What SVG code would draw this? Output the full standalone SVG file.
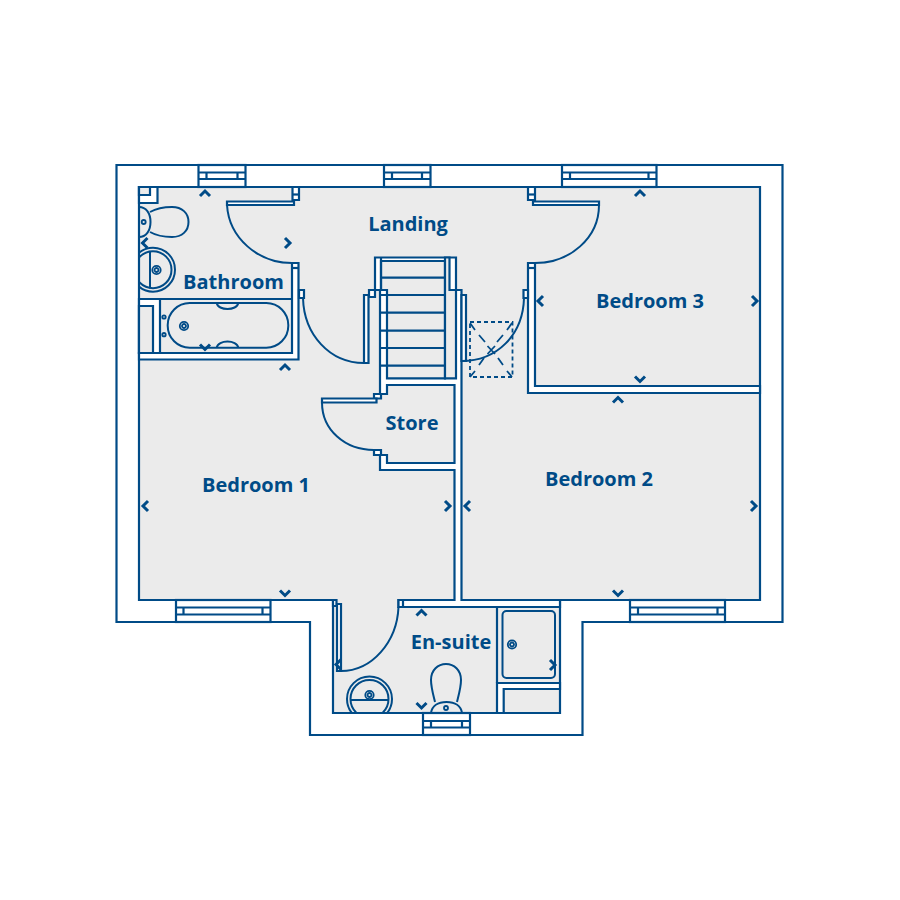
<svg xmlns="http://www.w3.org/2000/svg" width="900" height="900" viewBox="0 0 900 900">
<style>
.l{fill:none;stroke:#004b87;stroke-width:2.2}
.g{fill:#ebebeb;stroke:#004b87;stroke-width:2.2}
.w{fill:#fff;stroke:#004b87;stroke-width:2.2}
.t{fill:none;stroke:#004b87;stroke-width:2}
.c{fill:none;stroke:#004b87;stroke-width:3}
.d{fill:none;stroke:#004b87;stroke-width:1.800;stroke-dasharray:4 3}
.h{fill:none;stroke:#004b87;stroke-width:1.800}
.lb{font-family:"Open Sans",sans-serif;font-weight:700;font-size:20px;fill:#004b87;text-anchor:middle}
</style>
<defs>
<path id="up" class="c" d="M-5,3 L0,-2 L5,3"/>
<path id="dn" class="c" d="M-5,-3 L0,2 L5,-3"/>
<path id="lf" class="c" d="M3,-5 L-2,0 L3,5"/>
<path id="rt" class="c" d="M-3,-5 L2,0 L-3,5"/>
<g id="drain"><circle r="4.200" class="h" stroke-width="1.200"/><circle r="2" class="h" stroke-width="1.200"/></g>
<clipPath id="cb"><rect x="139" y="187" width="60" height="120"/></clipPath>
<clipPath id="ce"><rect x="333" y="660" width="120" height="53"/></clipPath>
</defs>
<rect width="900" height="900" fill="#fff"/>
<path id="outer" class="w" d="M116.500,165 H782.500 V622 H582.500 V735 H310 V622 H116.500 Z"/>
<path id="rooms" class="g" d="M139,187 H760 V600 H560 V713 H333 V600 H139 Z"/>

<g id="windows">
<g class="l"><rect x="198.500" y="165" width="47" height="22" fill="#fff"/><path d="M198.500,172.500 H245.500 M198.500,179 H245.500 M206.500,172.500 V179 M237.500,172.500 V179"/></g>
<g class="l"><rect x="384" y="165" width="46.500" height="22" fill="#fff"/><path d="M384,172.500 H430.500 M384,179 H430.500 M392,172.500 V179 M422,172.500 V179"/></g>
<g class="l"><rect x="562" y="165" width="94.500" height="22" fill="#fff"/><path d="M562,172.500 H656.500 M562,179 H656.500 M570,172.500 V179 M648.500,172.500 V179"/></g>
<g class="l"><rect x="176" y="600" width="94.500" height="22" fill="#fff"/><path d="M176,607.500 H270.500 M176,614.500 H270.500 M183.500,607.500 V614.500 M262.500,607.500 V614.500"/></g>
<g class="l"><rect x="630" y="600" width="95" height="22" fill="#fff"/><path d="M630,607.500 H725 M630,614.500 H725 M638,607.500 V614.500 M717.500,607.500 V614.500"/></g>
<g class="l"><rect x="423" y="713" width="47" height="22" fill="#fff"/><path d="M423,721 H470 M423,727.500 H470 M431,721 V727.500 M462,721 V727.500"/></g>
</g>

<g id="walls">
<path class="w" d="M139,187 H157.500 V203 H139 Z"/><path class="g" d="M139,187 H150 V195 H139 Z"/>
<path class="w" d="M292,263 H298.500 V359.500 H139 V353 H292 Z"/>
<path class="l" d="M292,268 H298.500"/>
<path class="w" d="M139,299 H160 V353 H139 Z"/><path class="g" d="M139,306 H153 V353 H139 Z"/>
<path class="l" d="M160,299 H292"/>
<path class="w" d="M292.500,187 H299 V200 H292.500 Z"/><path class="l" d="M292.500,194.500 H299"/>
<path class="w" d="M528,187 H535 V200 H528 Z"/><path class="l" d="M528,194.500 H535"/>
<path class="w" d="M528,263 H535 V386 H760 V393 H528 Z"/><path class="l" d="M528,268 H535"/>
<path class="w" d="M375,257.500 H456 V290 H461.500 V600 H560 V607 H398.500 V600 H454.500 V470 H380 V455 H387 V463 H454.500 V385 H387 V394 H380 V290 H375 Z"/>
<path class="g" d="M381,261 H445 V378.300 H387 V290 H381 Z"/>
<path class="g" d="M445,257.500 H449.500 V290 H456 V378.300 H445 Z"/>
<path class="l" d="M381,257.500 V290 M375,290 H387"/>
<path class="w" d="M369,290 H375 V297 H369 Z"/>
<path class="w" d="M299,290 H304 V298 H299 Z"/>
<path class="w" d="M523.500,290 H528 V298 H523.500 Z"/>
<path class="w" d="M374,394 H381 V398.500 H374 Z"/>
<path class="w" d="M374,450 H381 V455 H374 Z"/>
<path class="w" d="M333,600 H336.500 V606 H333 Z"/>
<path class="w" d="M398.500,600 H403 V607 H398.500 Z"/>
<path class="w" d="M497,683 H560 V689 H503.700 V713 H497 Z"/>
<path class="l" d="M497,607 V683"/>
</g>

<g id="stairs" class="l"><path d="M381,261 H445 M381,277.700 H445 M381,295 H445 M380,312.700 H445 M380,330.700 H445 M380,348 H445 M380,365.700 H445"/></g>

<g id="doors">
<path class="w" d="M227,201.500 H294 V205 H227 Z"/><path class="t" d="M227,205 C229,238 258,263 292,263"/>
<path class="w" d="M533,201.500 H599 V205 H533 Z"/><path class="t" d="M599,205 C599,238 570,263 535,263"/>
<path class="w" d="M364,295 H368.500 V363 H364 Z"/><path class="t" d="M303,298 C304,335 330,363 364,363"/>
<path class="w" d="M461.500,295 H466 V361 H461.500 Z"/><path class="t" d="M524,298 C523,335 497,361 461.500,361"/>
<path class="w" d="M322,398.500 H376.500 V402.500 H322 Z"/><path class="t" d="M322,402.500 C322,430 345,450 374,450"/>
<path class="w" d="M337,604 H341 V671 H337 Z"/><path class="t" d="M398.500,607 C397,642 372,671 341,671"/>
</g>

<g id="hatch"><rect class="d" x="470" y="322" width="42.500" height="55"/><path class="h" d="M470,323 L475,330 M479,335 L485,342 M487.500,346 L495,354 M498,358 L503,365 M507,371 L512,377 M512,323 L507,330 M503,335 L497,342 M495,346 L487.500,354 M484,358 L479,365 M475,371 L470,377"/></g>

<g id="bath">
<rect class="t" x="167.700" y="303" width="120.600" height="44.700" rx="22" ry="22"/>
<path class="t" d="M216.700,303 C218,311 237,311 238.300,303 M216.700,347.700 C218,339.500 237,339.500 238.300,347.700"/>
<circle class="h" cx="164" cy="317" r="1.700"/><circle class="h" cx="164" cy="334.700" r="1.700"/>
<use href="#drain" x="184" y="326"/>
</g>
<g id="bathroom-wc">
<path class="t" d="M139,207 C146,207 150.500,213 150.500,222 C150.500,231 146,237 139,237"/>
<path class="t" d="M150,212 C158,207.500 166,207 172,207 C182,207 188.500,213 188.500,222 C188.500,231 182,237 172,237 C166,237 158,236.500 150,232"/>
<circle class="h" cx="143.700" cy="222" r="2"/>
</g>
<g id="bathroom-basin" clip-path="url(#cb)">
<circle class="t" cx="153" cy="269.700" r="22"/><circle class="t" cx="153" cy="269.700" r="18.500"/>
<path class="t" d="M150,251 V288.500"/>
</g>
<use href="#drain" x="156.500" y="270"/>

<g id="shower">
<rect class="t" x="502.500" y="611" width="52.500" height="67" rx="4"/>
<use href="#drain" x="512" y="644.500"/>
</g>
<g id="ensuite-basin" clip-path="url(#ce)">
<circle class="t" cx="369.500" cy="699" r="22.500"/><circle class="t" cx="369.500" cy="699" r="19"/>
<path class="t" d="M350,700 H389"/>
</g>
<use href="#drain" x="369.500" y="695"/>
<g id="ensuite-wc">
<path class="t" d="M435,702 C433,694 431,687 431,680 C431,670 438,664 446,664 C454,664 461,670 461,680 C461,687 459,694 457,702"/>
<path class="t" d="M431,713 C432,706 438,702 446.500,702 C455,702 461,706 462,713"/>
<circle class="h" cx="446" cy="708" r="2"/>
</g>

<g id="chevrons">
<use href="#up" x="205" y="193"/><use href="#up" x="285" y="367"/><use href="#up" x="640" y="193"/><use href="#up" x="618" y="399.500"/><use href="#up" x="421.500" y="612.500"/>
<use href="#dn" x="205" y="347.500"/><use href="#dn" x="285" y="593.500"/><use href="#dn" x="640" y="379.500"/><use href="#dn" x="618" y="593.500"/><use href="#dn" x="421.500" y="706"/>
<use href="#lf" x="144.500" y="243"/><use href="#lf" x="145" y="506"/><use href="#lf" x="467" y="506"/><use href="#lf" x="540" y="301"/><use href="#lf" x="338" y="664.500"/>
<use href="#rt" x="288" y="243"/><use href="#rt" x="448" y="506"/><use href="#rt" x="754" y="506"/><use href="#rt" x="755" y="301"/><use href="#rt" x="553" y="665"/>
</g>

<g id="labels">
<text class="lb" x="233.500" y="289">Bathroom</text>
<text class="lb" x="408" y="231">Landing</text>
<text class="lb" x="650" y="308">Bedroom 3</text>
<text class="lb" x="412" y="430">Store</text>
<text class="lb" x="256" y="492">Bedroom 1</text>
<text class="lb" x="599" y="486">Bedroom 2</text>
<text class="lb" x="451" y="649">En-suite</text>
</g>
</svg>
